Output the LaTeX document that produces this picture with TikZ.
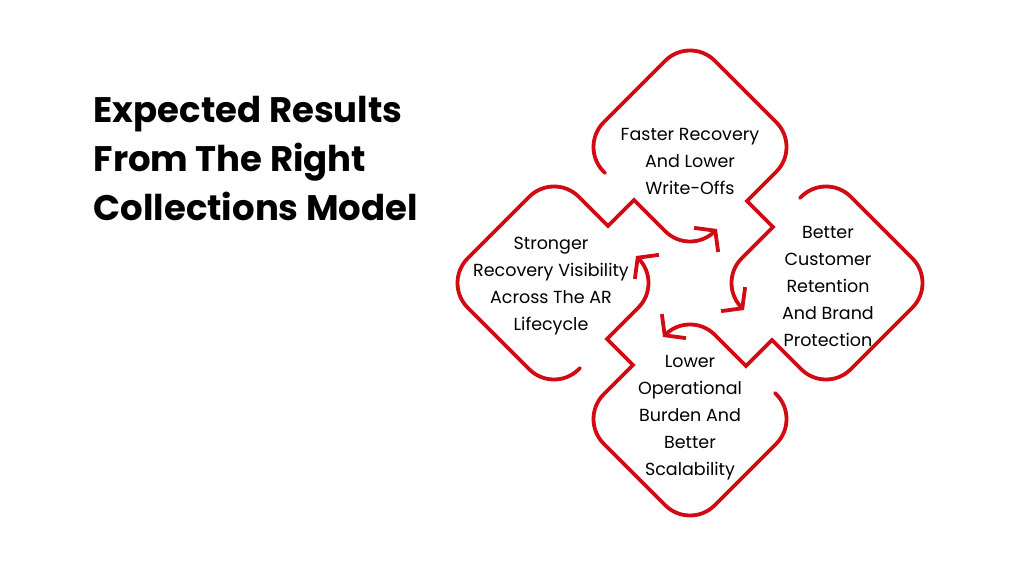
\documentclass[tikz,border=0pt]{standalone}
\usepackage{fontspec}
\setmainfont{Poppins}
\usetikzlibrary{arrows.meta}
\definecolor{cyclered}{HTML}{D20A14}
\tikzset{
every path/.style={line width=0.5pt}
, piece/.style={draw=cyclered,line width=3.8pt,line cap=round,
  -{Straight Barb[length=13pt,width=34pt,line width=3.8pt]}}
, steptext/.style={align=center,font=\fontsize{17.5}{27}\selectfont,text=black}
, titletext/.style={align=left,anchor=north west,font=\fontsize{35.5}{49}\selectfont\bfseries}}
\begin{document}
\begin{tikzpicture}[x=1pt,y=-1pt]
\useasboundingbox (0,0) rectangle (1012,569);
\node[titletext] (title) at (90,93) {Expected Results\\From The Right\\Collections Model};
% four curled diamonds around the centre
\foreach \a in {0,-90,-180,-270}{
\begin{scope}[shift={(690,283)},rotate=\a]
\draw[piece] (-85,-110) [rounded corners=35] -- (-111,-136) -- (0,-247) -- (111,-136) [sharp corners]
  -- (57,-82) -- (83,-56) [rounded corners=35] -- (27,0) -- (54,27);
\end{scope}
}
\node[steptext] (fast) at (690,161) {Faster Recovery\\And Lower\\Write-Offs};
\node[steptext] (keep) at (828,286) {Better\\Customer\\Retention\\And Brand\\Protection};
\node[steptext] (burden) at (690,418) {Lower\\Operational\\Burden And\\Better\\Scalability};
\node[steptext] (view) at (551,286) {Stronger\\Recovery Visibility\\Across The AR\\Lifecycle};
\end{tikzpicture}
\end{document}
